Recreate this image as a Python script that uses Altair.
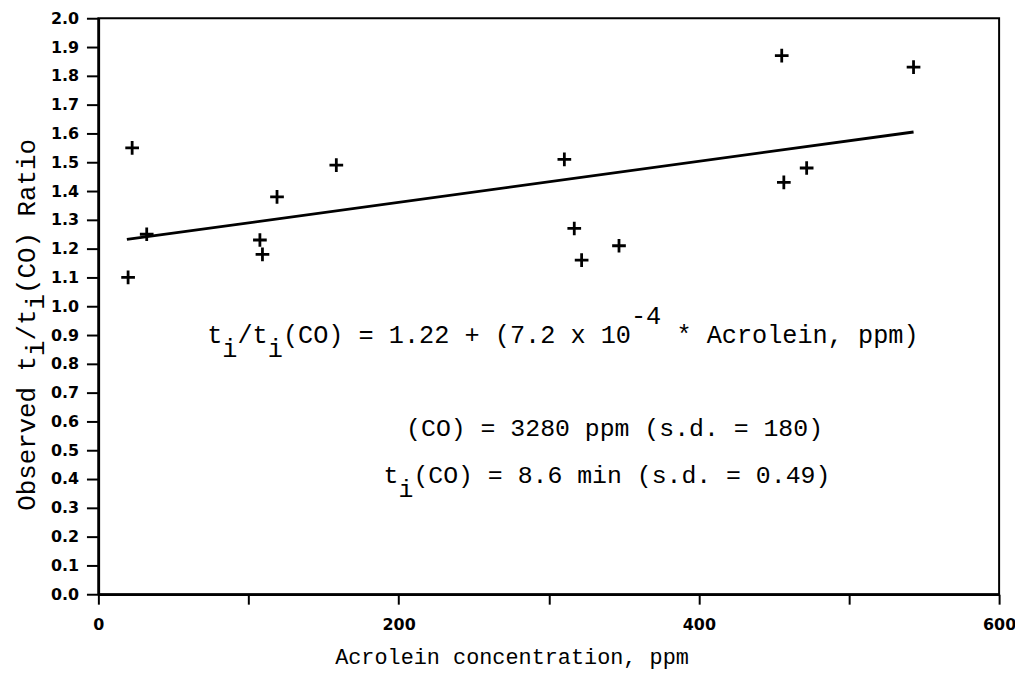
import altair as alt
import pandas as pd

# Observed data points (Acrolein ppm, ratio)
acrolein = [19.8, 22.5, 32.2, 107.6, 109.3, 119.0, 158.5, 310.4, 317.0, 321.9, 346.8, 455.2, 456.6, 471.8, 543.0]
ratio = [1.10, 1.55, 1.25, 1.23, 1.18, 1.38, 1.49, 1.51, 1.27, 1.16, 1.21, 1.87, 1.43, 1.48, 1.83]

# Regression line end points
fit_x = [19.0, 543.0]
fit_y = [1.232, 1.605]

x_ticks = [0, 100, 200, 300, 400, 500, 600]
y_ticks = [round(i * 0.1, 1) for i in range(21)]

MONO = "Liberation Mono"
FS = 25
EQFS = 25.4
PXU = 907 / 600.0  # px per data unit in x
CWD = 0.6 * FS / PXU  # data units per column (lines 2-3)
EQCWD = 0.6 * EQFS / PXU  # data units per column (equation)

pts = pd.DataFrame({"x": acrolein, "y": ratio})
fit = pd.DataFrame({"x": fit_x, "y": fit_y})

# Equation annotation pieces: (text, column, role)
eq_x0 = 72.5
eq_y = 0.90
eq_pieces = [
    ("t", 0, "n"), ("i", 1, "sub"), ("/t", 2, "n"), ("i", 4, "sub"),
    ("(CO) = 1.22 + (7.2 x 10", 5, "n"), ("-4", 28, "sup"),
    ("* Acrolein, ppm)", 31, "n"),
]
l2_x0 = 205.0
l2_y = 0.576
l3_x0 = 190.0
l3_y = 0.415
l3_pieces = [("t", 0, "n"), ("i", 1, "sub"), ("(CO) = 8.6 min (s.d. = 0.49)", 2, "n")]

off = {"n": 0.0, "sub": -0.05, "sup": 0.065}
eq_rows = [{"t": t, "x": eq_x0 + c * EQCWD, "y": eq_y + off[r]} for t, c, r in eq_pieces]
ln_rows = [{"t": "(CO) = 3280 ppm (s.d. = 180)", "x": l2_x0, "y": l2_y}]
ln_rows += [{"t": t, "x": l3_x0 + c * CWD, "y": l3_y + off[r]} for t, c, r in l3_pieces]
eq_df = pd.DataFrame(eq_rows)
ln_df = pd.DataFrame(ln_rows)

xscale = alt.Scale(domain=[0, 600], nice=False, zero=False)
yscale = alt.Scale(domain=[0, 2.0], nice=False, zero=False)

LABEL_FONT = "DejaVu Sans"

xaxis = alt.Axis(
    values=x_ticks, labelExpr="datum.value % 200 == 0 ? datum.label : ''",
    title="Acrolein concentration, ppm", titleFont=MONO, titleFontSize=22,
    titleFontWeight="normal", titleColor="black", titlePadding=14,
    titleX=416, titleAlign="center",
    labelFont=LABEL_FONT, labelFontWeight="bold", labelFontSize=16,
    labelColor="black", labelPadding=13, tickSize=10, tickWidth=2,
    tickColor="black", domainColor="black", domainWidth=2.5, grid=False,
    labelFlush=False, labelOverlap=False,
)
yaxis = alt.Axis(
    values=y_ticks, format=".1f", title=None,
    labelFont=LABEL_FONT, labelFontWeight="bold", labelFontSize=16,
    labelColor="black", labelPadding=8, tickSize=12, tickWidth=2,
    tickColor="black", domainColor="black", domainWidth=2.5, grid=False,
    labelOverlap=False,
)

X = alt.X("x:Q", scale=xscale, axis=xaxis)
Y = alt.Y("y:Q", scale=yscale, axis=yaxis)

points = alt.Chart(pts).mark_point(
    shape="M-1,0L1,0M0,-1L0,1", size=190, strokeWidth=2.8, color="black",
    filled=False, opacity=1,
).encode(x=X, y=Y)
line = alt.Chart(fit).mark_line(color="black", strokeWidth=2.8).encode(x=X, y=Y)
eq_text = alt.Chart(eq_df).mark_text(
    font=MONO, fontSize=EQFS, align="left", baseline="middle", color="black"
).encode(x=X, y=Y, text="t:N")
ln_text = alt.Chart(ln_df).mark_text(
    font=MONO, fontSize=FS, align="left", baseline="middle", color="black"
).encode(x=X, y=Y, text="t:N")

# Rotated y-axis title with subscripts
YFS = 26
YCW = 0.6 * YFS
yt_bottom = 496.0
yt_x = -72.0
yt_pieces = [("Observed t", 0, 0), ("i", 10, 9), ("/t", 11, 0), ("i", 13, 9), ("(CO) Ratio", 14, 0)]
yt = pd.DataFrame([
    {"t": t, "px": yt_x + dx, "py": yt_bottom - c * YCW} for t, c, dx in yt_pieces
])
ytitle = alt.Chart(yt).mark_text(
    font=MONO, fontSize=YFS, align="left", baseline="middle", angle=270, color="black"
).encode(
    x=alt.X("px:Q", scale=None), y=alt.Y("py:Q", scale=None), text="t:N"
)

chart = alt.layer(line, points, eq_text, ln_text, ytitle).properties(
    width=907, height=580,
    autosize=alt.AutoSizeParams(type="none"),
    padding={"left": 91, "top": 8, "right": 16, "bottom": 77},
    background="white",
).configure_view(stroke="black", strokeWidth=2)

chart.save("out.html", embed_options={"renderer": "svg", "actions": False})
